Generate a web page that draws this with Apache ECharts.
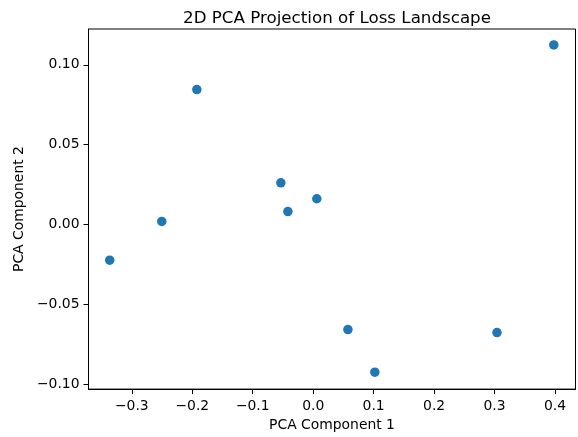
<!DOCTYPE html>
<html>
<head>
<meta charset="utf-8">
<script src="https://cdn.jsdelivr.net/npm/echarts@6/dist/echarts.min.js"></script>
<style>
html,body{margin:0;padding:0;background:#fff;}
#chart{width:578px;height:437px;}
</style>
</head>
<body>
<div id="chart"></div>
<script>
var pc1 = [-0.3366, -0.2505, -0.1925, -0.0535, -0.0419, 0.0060, 0.0574, 0.1020, 0.3040, 0.3980];
var pc2 = [-0.0224, 0.0019, 0.0845, 0.0261, 0.0081, 0.0161, -0.0658, -0.0925, -0.0677, 0.1124];
var xTicks = [-0.3, -0.2, -0.1, 0.0, 0.1, 0.2, 0.3, 0.4];
var yTicks = [-0.10, -0.05, 0.00, 0.05, 0.10];

var points = pc1.map(function (x, i) { return [x, pc2[i]]; });
function fmt(v, d) {
  var s = Math.abs(v).toFixed(d);
  return (v < -1e-9 ? '\u2212' : '') + s;
}
var font = 'DejaVu Sans';
var chart = echarts.init(document.getElementById('chart'), null, {renderer: 'canvas'});
chart.setOption({
  animation: false,
  backgroundColor: '#fff',
  title: {
    text: '2D PCA Projection of Loss Landscape',
    left: 332, top: 5, textAlign: 'center',
    textStyle: {fontFamily: font, fontSize: 16.7, fontWeight: 'normal', color: '#000'}
  },
  grid: {left: 88.5, right: 2.5, top: 29, bottom: 44, show: true, borderColor: '#000', borderWidth: 1, backgroundColor: 'transparent'},
  xAxis: {
    type: 'value', min: -0.3717, max: 0.4339,
    name: 'PCA Component 1', nameLocation: 'middle', nameGap: 28,
    nameTextStyle: {fontFamily: font, fontSize: 13.9, color: '#000'},
    splitLine: {show: false},
    axisLine: {show: true, onZero: false, lineStyle: {color: '#000', width: 1}},
    axisTick: {show: true, length: 5, customValues: xTicks, lineStyle: {color: '#000'}},
    axisLabel: {customValues: xTicks, margin: 10, fontFamily: font, fontSize: 13.9, color: '#000',
      formatter: function (v) { return fmt(v, 1); }}
  },
  yAxis: {
    type: 'value', min: -0.1031, max: 0.1224,
    name: 'PCA Component 2', nameLocation: 'middle', nameGap: 50, nameRotate: 90,
    nameTextStyle: {fontFamily: font, fontSize: 13.9, color: '#000'},
    splitLine: {show: false},
    axisLine: {show: true, onZero: false, lineStyle: {color: '#000', width: 1}},
    axisTick: {show: true, length: 5, customValues: yTicks, lineStyle: {color: '#000'}},
    axisLabel: {customValues: yTicks, margin: 9, fontFamily: font, fontSize: 13.9, color: '#000',
      formatter: function (v) { return fmt(v, 2); }}
  },
  series: [{
    type: 'scatter',
    data: points,
    symbol: 'circle',
    symbolSize: 9.5,
    itemStyle: {color: '#1f77b4', opacity: 1}
  }]
});
</script>
</body>
</html>
